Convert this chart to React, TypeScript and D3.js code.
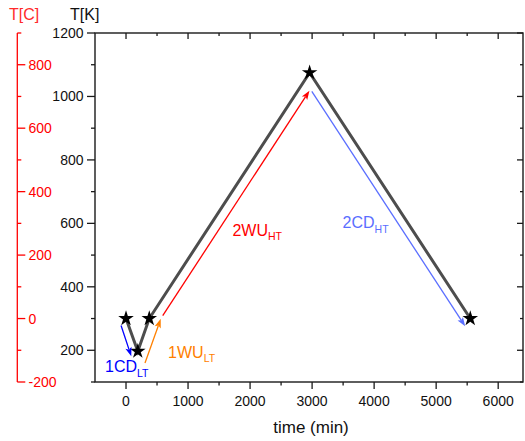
import React from "react";
import * as d3 from "d3";

const times = [0, 190, 375, 2960, 5550];
const tempsK = [300, 197, 300, 1075, 300];

const xMajorTicks = [0, 1000, 2000, 3000, 4000, 5000, 6000];
const xMinorTicks = [500, 1500, 2500, 3500, 4500, 5500];
const yMajorTicks = [200, 400, 600, 800, 1000, 1200];
const yMinorTicks = [100, 300, 500, 700, 900, 1100];
const cMajorTicks = [-200, 0, 200, 400, 600, 800];
const cMinorTicks = [-100, 100, 300, 500, 700, 900];

const arrowNames = ["1CD", "1WU", "2WU", "2CD"];
const arrowSubs = ["LT", "LT", "HT", "HT"];
const arrowColors = ["#0000ff", "#ff8000", "#ff0000", "#5a6eff"];
const arrowX0 = [-80, 306, 592, 2995];
const arrowY0 = [278, 160, 309, 1016];
const arrowX1 = [85, 560, 2957, 5468];
const arrowY1 = [181, 299, 1018, 276];
const labelX = [-339, 678, 1716, 3491];
const labelY = [130, 177, 561, 585];

const W = 525;
const H = 441;
const left = 95;
const right = 523;
const top = 33;
const bottom = 382;
const font = "'Liberation Sans', Arial, sans-serif";

export default function App() {
  const x = d3.scaleLinear().domain([-500, 6400]).range([left, right]);
  const y = d3.scaleLinear().domain([100, 1200]).range([bottom, top]);
  const yc = (c: number) => y(c + 300);
  const redX = 17.3;
  const line = d3
    .line<number>()
    .x((_, i) => x(times[i]))
    .y((_, i) => y(tempsK[i]));
  const star = d3.symbol().type(d3.symbolStar).size(75)();
  const axisColor = "#1a1a1a";

  return (
    <svg
      width={W}
      height={H}
      style={{ position: "absolute", left: 0, top: 0, background: "#fff" }}
      fontFamily={font}
    >
      {/* frame */}
      <rect x={left} y={top} width={right - left} height={bottom - top} fill="none" stroke={axisColor} strokeWidth={1.4} />
      {/* left ticks outward */}
      {yMajorTicks.map((t) => (
        <g key={"yl" + t}>
          <line x1={left - 8} x2={left} y1={y(t)} y2={y(t)} stroke={axisColor} strokeWidth={1.3} />
          <line x1={right - 6} x2={right} y1={y(t)} y2={y(t)} stroke={axisColor} strokeWidth={1.3} />
          <text x={left - 11.5} y={y(t)} dy="0.36em" textAnchor="end" fontSize={14} fill="#111">
            {t}
          </text>
        </g>
      ))}
      {yMinorTicks.map((t) => (
        <g key={"ym" + t}>
          <line x1={left - 4} x2={left} y1={y(t)} y2={y(t)} stroke={axisColor} strokeWidth={1.3} />
          <line x1={right - 3} x2={right} y1={y(t)} y2={y(t)} stroke={axisColor} strokeWidth={1.3} />
        </g>
      ))}
      {xMajorTicks.map((t) => (
        <g key={"xl" + t}>
          <line x1={x(t)} x2={x(t)} y1={bottom} y2={bottom + 7} stroke={axisColor} strokeWidth={1.3} />
          <line x1={x(t)} x2={x(t)} y1={top} y2={top + 6} stroke={axisColor} strokeWidth={1.3} />
          <text x={x(t)} y={bottom + 24} textAnchor="middle" fontSize={14} fill="#111">
            {t}
          </text>
        </g>
      ))}
      {xMinorTicks.map((t) => (
        <g key={"xm" + t}>
          <line x1={x(t)} x2={x(t)} y1={bottom} y2={bottom + 3.5} stroke={axisColor} strokeWidth={1.3} />
          <line x1={x(t)} x2={x(t)} y1={top} y2={top + 3} stroke={axisColor} strokeWidth={1.3} />
        </g>
      ))}
      <text x={(left + right) / 2 + 2} y={433} textAnchor="middle" fontSize={17} fill="#111">
        time (min)
      </text>
      <text x={70} y={19.5} fontSize={16} fill="#111">
        T[K]
      </text>

      {/* red Celsius axis */}
      <line x1={redX} x2={redX} y1={yc(900)} y2={yc(-200)} stroke="#ff0000" strokeWidth={1.3} />
      {cMajorTicks.map((t) => (
        <g key={"c" + t}>
          <line x1={redX} x2={redX + 8} y1={yc(t)} y2={yc(t)} stroke="#ff0000" strokeWidth={1.3} />
          <text x={28.5} y={yc(t)} dy="0.36em" fontSize={14} fill="#ff0000">
            {t}
          </text>
        </g>
      ))}
      {cMinorTicks.map((t) => (
        <line key={"cm" + t} x1={redX} x2={redX + 4} y1={yc(t)} y2={yc(t)} stroke="#ff0000" strokeWidth={1.3} />
      ))}
      <text x={9} y={19.5} fontSize={16} fill="#ff2a2a">
        T[C]
      </text>

      {/* main profile */}
      <path d={line(times) || ""} fill="none" stroke="#4d4d4d" strokeWidth={3} strokeLinejoin="miter" />
      {times.map((t, i) => (
        <path key={"s" + i} d={star || ""} transform={`translate(${x(t)},${y(tempsK[i])})`} fill="#000" />
      ))}

      {/* arrows */}
      {arrowNames.map((n, i) => {
        const x0 = x(arrowX0[i]);
        const y0 = y(arrowY0[i]);
        const x1 = x(arrowX1[i]);
        const y1 = y(arrowY1[i]);
        const dx = x1 - x0;
        const dy = y1 - y0;
        const len = Math.sqrt(dx * dx + dy * dy);
        const ux = dx / len;
        const uy = dy / len;
        const hl = 9;
        const hw = 3.2;
        const bx = x1 - ux * hl;
        const by = y1 - uy * hl;
        const pts = [
          [x1, y1],
          [bx - uy * hw, by + ux * hw],
          [bx + ux * 2, by + uy * 2],
          [bx + uy * hw, by - ux * hw],
        ];
        return (
          <g key={"a" + i}>
            <line x1={x0} y1={y0} x2={bx + ux * 2} y2={by + uy * 2} stroke={arrowColors[i]} strokeWidth={1.3} />
            <polygon points={pts.map((p) => p.join(",")).join(" ")} fill={arrowColors[i]} />
            <text x={x(labelX[i])} y={y(labelY[i])} fontSize={16} fill={arrowColors[i]}>
              {n}
              <tspan fontSize={10.5} dy={4.5}>
                {arrowSubs[i]}
              </tspan>
            </text>
          </g>
        );
      })}
    </svg>
  );
}
